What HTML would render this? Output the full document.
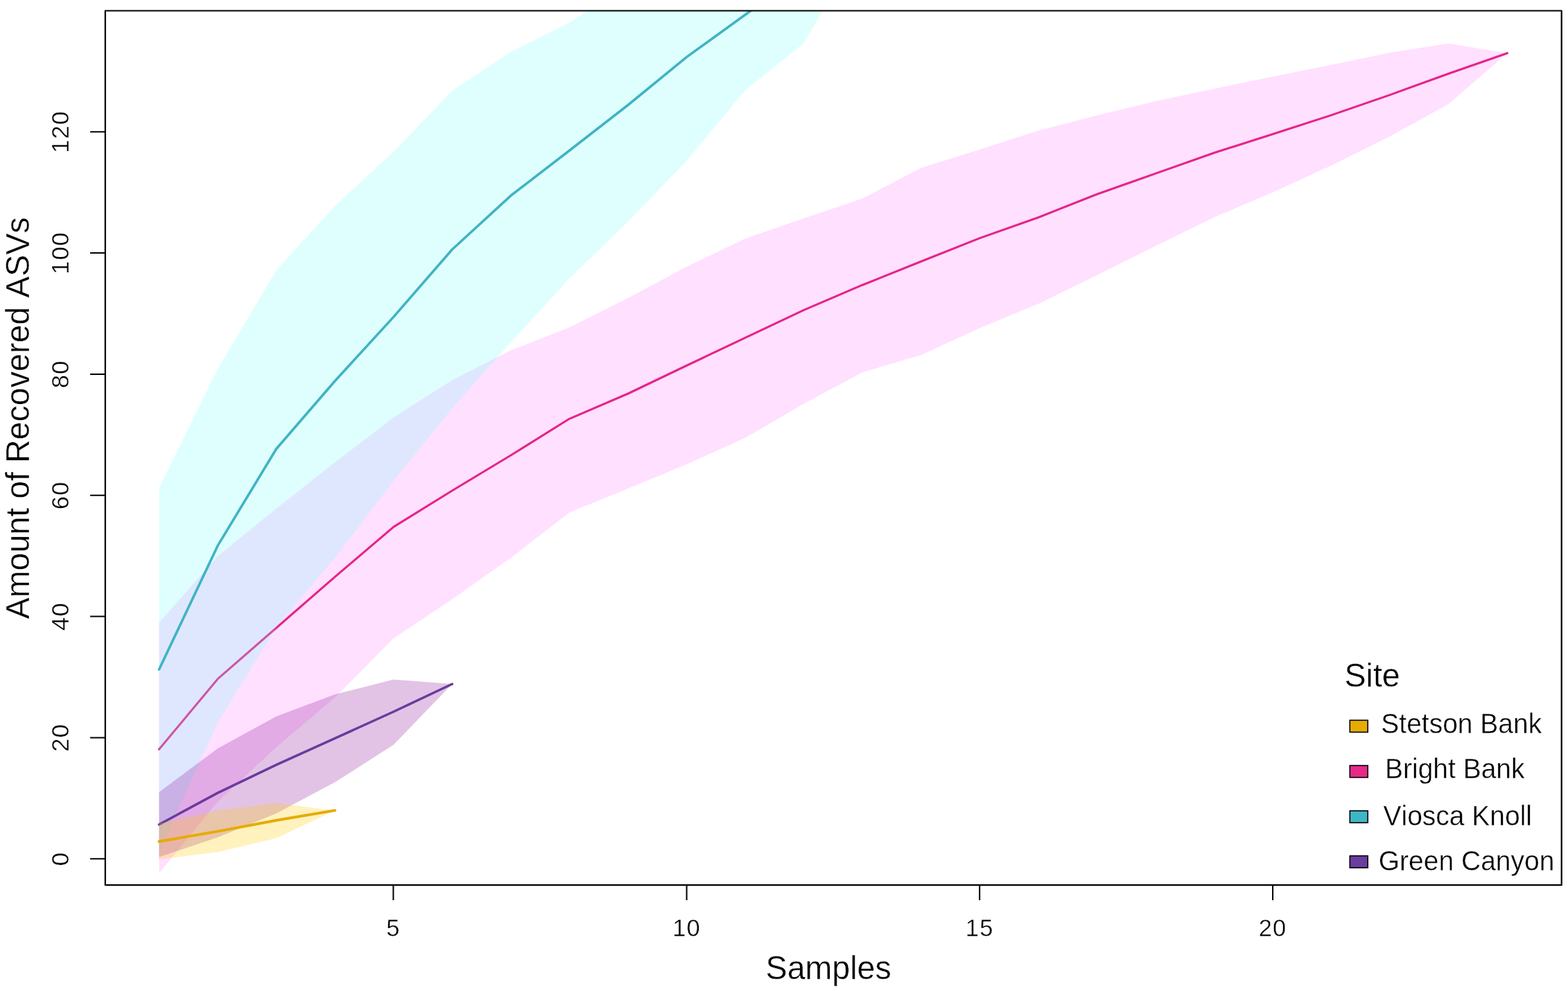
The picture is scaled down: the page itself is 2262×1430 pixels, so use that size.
<!DOCTYPE html>
<html lang="en">
<head>
<meta charset="utf-8">
<title>Species accumulation curves by site</title>
<style>
html,body{margin:0;padding:0;background:#fff;}
body{width:2262px;height:1430px;overflow:hidden;}
svg{display:block;}
text{font-family:"Liberation Sans",Arial,Helvetica,sans-serif;font-kerning:none;fill:#000;stroke:#fff;stroke-width:0.4px;}
</style>
</head>
<body>
<svg width="2262" height="1430" viewBox="0 0 2262 1430" font-family="'Liberation Sans', Arial, Helvetica, sans-serif">
<defs><clipPath id="plotclip"><rect x="151.85" y="15.5" width="2100.85" height="1261.70"/></clipPath></defs>
<rect width="2262" height="1430" fill="#fff"/>
<g clip-path="url(#plotclip)">
<polygon points="229.5,898.6 314.1,802.4 398.6,733.7 483.2,667.2 567.7,602.3 652.3,548.6 736.9,505.5 821.4,472.4 906.0,429.9 990.5,384.9 1075.1,344.2 1159.7,315.0 1244.2,286.4 1328.8,242.2 1413.4,215.7 1497.9,188.5 1582.5,166.5 1667.0,146.0 1751.6,128.0 1836.2,110.5 1920.7,93.5 2005.3,76.0 2089.8,62.7 2174.4,76.7 2174.4,76.7 2089.8,149.9 2005.3,196.8 1920.7,238.8 1836.2,277.5 1751.6,313.5 1667.0,355.0 1582.5,397.0 1497.9,438.5 1413.4,473.5 1328.8,512.2 1244.2,537.2 1159.7,582.4 1075.1,631.7 990.5,670.0 906.0,705.0 821.4,739.6 736.9,804.9 652.3,864.8 567.7,921.3 483.2,1006.5 398.6,1078.3 314.1,1157.0 229.5,1260.1" fill="rgba(255,0,255,0.1235)"/>
<polyline points="229.5,1081.2 314.1,979.7 398.6,906.0 483.2,832.4 567.7,760.4 652.3,708.0 736.9,657.0 821.4,604.3 906.0,568.0 990.5,527.5 1075.1,487.3 1159.7,447.4 1244.2,411.2 1328.8,377.3 1413.4,343.6 1497.9,313.7 1582.5,280.2 1667.0,250.4 1751.6,220.5 1836.2,193.6 1920.7,166.1 2005.3,136.9 2089.8,106.2 2174.4,76.7" fill="none" stroke="#E6238A" stroke-width="3.1" stroke-linecap="round" stroke-linejoin="round"/>
<polygon points="229.5,703.7 314.1,532.3 398.6,390.0 483.2,297.0 567.7,219.0 652.3,131.0 736.9,75.0 821.4,32.5 906.0,-20.0 990.5,-67.0 1075.1,-87.0 1159.7,-100.0 1244.2,-86.0 1244.2,-86.0 1159.7,62.4 1075.1,129.9 990.5,232.3 906.0,319.7 821.4,402.0 736.9,494.0 652.3,589.0 567.7,694.0 483.2,805.0 398.6,905.5 314.1,1042.5 229.5,1228.3" fill="rgba(120,255,255,0.235)"/>
<polyline points="229.5,966.0 314.1,787.4 398.6,647.7 483.2,549.8 567.7,457.4 652.3,360.0 736.9,282.3 821.4,217.3 906.0,151.5 990.5,82.4 1075.1,21.2 1159.7,-40.0 1244.2,-86.0" fill="none" stroke="#3FB4C2" stroke-width="3.6" stroke-linecap="round" stroke-linejoin="round"/>
<polygon points="229.5,1142.9 314.1,1079.9 398.6,1033.7 483.2,1002.0 567.7,980.6 652.3,987.0 652.3,987.0 567.7,1074.8 483.2,1128.8 398.6,1173.7 314.1,1208.3 229.5,1236.7" fill="rgba(135,10,150,0.245)"/>
<polyline points="229.5,1189.8 314.1,1144.1 398.6,1103.7 483.2,1065.4 567.7,1027.0 652.3,987.0" fill="none" stroke="#6A3B9C" stroke-width="3.5" stroke-linecap="round" stroke-linejoin="round"/>
<polygon points="229.5,1188.4 314.1,1169.7 398.6,1159.1 483.2,1169.4 483.2,1169.4 398.6,1209.6 314.1,1229.5 229.5,1240.2" fill="rgba(255,205,0,0.26)"/>
<polyline points="229.5,1214.3 314.1,1199.6 398.6,1183.7 483.2,1169.4" fill="none" stroke="#E6AB02" stroke-width="4.0" stroke-linecap="round" stroke-linejoin="round"/>
</g>
<rect x="151.85" y="15.5" width="2100.85" height="1261.70" fill="none" stroke="#000" stroke-width="2.2" stroke-linejoin="round"/>
<path d="M151.85,1239.2h-21.8 M151.85,1064.4h-21.8 M151.85,889.5h-21.8 M151.85,714.7h-21.8 M151.85,539.9h-21.8 M151.85,365.0h-21.8 M151.85,190.2h-21.8 M567.4,1277.2v21.8 M990.6,1277.2v21.8 M1413.2,1277.2v21.8 M1836.1,1277.2v21.8" fill="none" stroke="#000" stroke-width="2" stroke-linecap="butt"/>
<g fill="#000" letter-spacing="1.2">
<text transform="translate(567.4,1351.0) scale(1,1.02)" font-size="34.6" text-anchor="middle">5</text>
<text transform="translate(990.6,1351.0) scale(1,1.02)" font-size="34.6" text-anchor="middle">10</text>
<text transform="translate(1413.2,1351.0) scale(1,1.02)" font-size="34.6" text-anchor="middle">15</text>
<text transform="translate(1836.1,1351.0) scale(1,1.02)" font-size="34.6" text-anchor="middle">20</text>
<text transform="translate(99.2,1239.2) rotate(-90) scale(1,1.02)" font-size="34.6" text-anchor="middle">0</text>
<text transform="translate(99.2,1064.4) rotate(-90) scale(1,1.02)" font-size="34.6" text-anchor="middle">20</text>
<text transform="translate(99.2,889.5) rotate(-90) scale(1,1.02)" font-size="34.6" text-anchor="middle">40</text>
<text transform="translate(99.2,714.7) rotate(-90) scale(1,1.02)" font-size="34.6" text-anchor="middle">60</text>
<text transform="translate(99.2,539.9) rotate(-90) scale(1,1.02)" font-size="34.6" text-anchor="middle">80</text>
<text transform="translate(99.2,365.0) rotate(-90) scale(1,1.02)" font-size="34.6" text-anchor="middle">100</text>
<text transform="translate(99.2,190.2) rotate(-90) scale(1,1.02)" font-size="34.6" text-anchor="middle">120</text>
</g>
<text transform="translate(1195.2,1412.9) scale(1,1.02)" font-size="46.6" text-anchor="middle">Samples</text>
<text transform="translate(41.9,603.3) rotate(-90) scale(1,1.02)" font-size="46.6" text-anchor="middle">Amount of Recovered ASVs</text>
<text transform="translate(1939.5,990.5) scale(1,1.02)" font-size="46.6">Site</text>
<rect x="1947.3" y="1039.3" width="25.9" height="17.2" fill="#E6AB02" stroke="#000" stroke-width="1.6"/>
<text transform="translate(1992.3,1058.1) scale(1,1.02)" font-size="39.0">Stetson Bank</text>
<rect x="1947.3" y="1104.6" width="25.9" height="17.2" fill="#E7298A" stroke="#000" stroke-width="1.6"/>
<text transform="translate(1998.0,1122.7) scale(1,1.02)" font-size="39.0">Bright Bank</text>
<rect x="1947.3" y="1170.0" width="25.9" height="17.2" fill="#3FB6C6" stroke="#000" stroke-width="1.6"/>
<text transform="translate(1995.5,1190.6) scale(1,1.02)" font-size="39.0">Viosca Knoll</text>
<rect x="1947.3" y="1235.0" width="25.9" height="17.2" fill="#6A3D9F" stroke="#000" stroke-width="1.6"/>
<text transform="translate(1988.8,1255.6) scale(1,1.02)" font-size="39.0">Green Canyon</text>
</svg>
</body>
</html>
